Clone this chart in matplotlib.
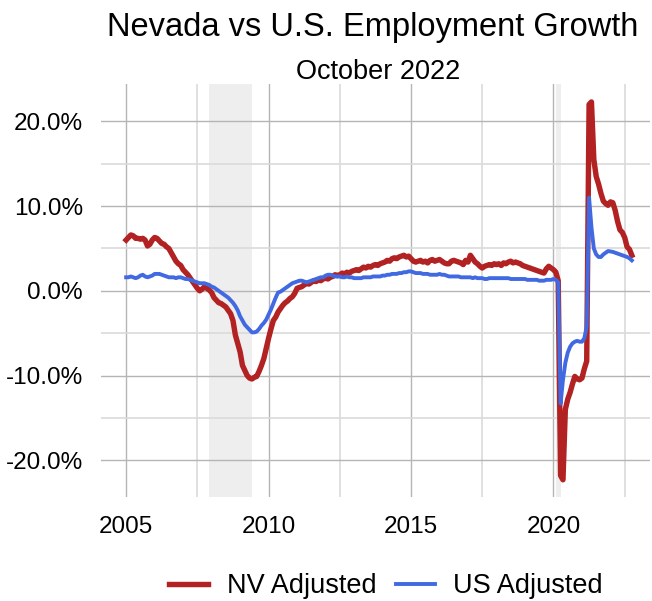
import numpy as np
import pandas as pd
import matplotlib
matplotlib.use("Agg")
import matplotlib.pyplot as plt
from matplotlib.ticker import FixedLocator, FuncFormatter

plt.rcParams["font.family"] = ["Liberation Sans", "DejaVu Sans"]

# monthly year-over-year employment growth (%), Jan 2005 .. Oct 2022
nv_adjusted = [
    6.0, 6.3, 6.6, 6.5, 6.2, 6.2, 6.1, 6.2, 6.0, 5.3, 5.5, 6.0,  # 2005
    6.3, 6.2, 5.9, 5.6, 5.5, 5.2, 5.0, 4.5, 4.0, 3.5, 3.2, 3.0,  # 2006
    2.5, 2.2, 1.9, 1.5, 1.1, 0.7, 0.3, 0.0, 0.2, 0.5, 0.3, 0.1,  # 2007
    -0.2, -0.8, -1.1, -1.4, -1.5, -1.7, -1.9, -2.3, -2.7, -3.5, -5.2, -6.2,  # 2008
    -7.2, -8.8, -9.4, -10.0, -10.3, -10.4, -10.2, -10.1, -9.5, -8.8, -8.0, -6.8,  # 2009
    -5.6, -4.5, -3.5, -3.1, -2.5, -2.1, -1.7, -1.4, -1.2, -0.9, -0.7, -0.3,  # 2010
    0.3, 0.4, 0.5, 0.7, 0.9, 0.8, 1.0, 1.2, 1.1, 1.3, 1.2, 1.4,  # 2011
    1.5, 1.4, 1.6, 1.7, 1.9, 1.8, 1.9, 2.1, 2.0, 2.2, 2.1, 2.3,  # 2012
    2.4, 2.5, 2.4, 2.6, 2.8, 2.7, 2.9, 2.8, 3.0, 3.1, 3.0, 3.2,  # 2013
    3.3, 3.4, 3.6, 3.5, 3.8, 3.9, 3.8, 4.0, 4.1, 4.2, 4.0, 4.1,  # 2014
    3.8, 3.5, 3.4, 3.5, 3.6, 3.4, 3.5, 3.3, 3.6, 3.7, 3.5, 3.6,  # 2015
    3.7, 3.5, 3.3, 3.2, 3.2, 3.5, 3.6, 3.5, 3.4, 3.3, 3.1, 3.6,  # 2016
    3.4, 4.2, 3.8, 3.4, 3.2, 2.9, 2.7, 2.9, 3.0, 3.1, 3.0, 3.2,  # 2017
    3.1, 3.2, 3.0, 3.3, 3.2, 3.4, 3.5, 3.3, 3.4, 3.3, 3.2, 3.0,  # 2018
    2.9, 2.8, 2.7, 2.6, 2.5, 2.4, 2.3, 2.2, 2.1, 2.6, 2.9, 2.7,  # 2019
    2.5, 2.2, 1.2, -21.8, -22.3, -14.0, -12.8, -12.0, -11.0, -10.1, -10.4, -10.5,  # 2020
    -10.3, -9.2, -8.3, 22.0, 22.3, 15.5, 13.5, 12.6, 11.5, 10.6, 10.3, 10.1,  # 2021
    10.5, 10.4, 9.5, 8.2, 7.2, 6.9, 6.3, 5.2, 4.9, 4.2,  # 2022
]

us_adjusted = [
    1.6, 1.6, 1.7, 1.6, 1.5, 1.6, 1.8, 1.9, 1.7, 1.6, 1.7, 1.8,  # 2005
    2.0, 2.0, 2.0, 1.9, 1.8, 1.7, 1.6, 1.6, 1.6, 1.5, 1.6, 1.6,  # 2006
    1.5, 1.4, 1.4, 1.3, 1.2, 1.1, 1.0, 0.9, 0.9, 0.9, 0.8, 0.7,  # 2007
    0.5, 0.4, 0.2, 0.0, -0.2, -0.4, -0.6, -0.8, -1.1, -1.4, -1.8, -2.3,  # 2008
    -3.0, -3.5, -4.0, -4.3, -4.6, -4.9, -4.9, -4.8, -4.5, -4.1, -3.8, -3.4,  # 2009
    -2.8, -2.2, -1.5, -0.8, -0.2, -0.1, 0.1, 0.3, 0.5, 0.7, 0.9, 1.0,  # 2010
    1.1, 1.2, 1.2, 1.1, 1.0, 1.1, 1.2, 1.3, 1.4, 1.5, 1.6, 1.6,  # 2011
    1.8, 1.9, 1.9, 1.8, 1.7, 1.7, 1.7, 1.6, 1.6, 1.7, 1.6, 1.6,  # 2012
    1.5, 1.5, 1.5, 1.5, 1.6, 1.6, 1.6, 1.6, 1.7, 1.7, 1.7, 1.7,  # 2013
    1.8, 1.8, 1.9, 1.9, 2.0, 2.0, 2.0, 2.1, 2.1, 2.2, 2.2, 2.3,  # 2014
    2.3, 2.2, 2.1, 2.1, 2.1, 2.0, 2.0, 2.0, 1.9, 1.9, 1.9, 1.9,  # 2015
    2.0, 1.9, 1.9, 1.8, 1.7, 1.7, 1.7, 1.7, 1.7, 1.6, 1.6, 1.6,  # 2016
    1.6, 1.6, 1.5, 1.6, 1.5, 1.5, 1.5, 1.4, 1.4, 1.5, 1.5, 1.5,  # 2017
    1.5, 1.5, 1.5, 1.5, 1.5, 1.5, 1.4, 1.4, 1.4, 1.4, 1.4, 1.4,  # 2018
    1.4, 1.3, 1.3, 1.3, 1.3, 1.3, 1.2, 1.2, 1.2, 1.3, 1.3, 1.3,  # 2019
    1.4, 1.3, 1.0, -13.3, -10.5, -8.5, -7.3, -6.6, -6.2, -6.0, -5.9, -6.0,  # 2020
    -6.0, -5.6, -4.2, 11.0, 7.5, 5.0, 4.3, 4.0, 4.0, 4.3, 4.5, 4.7,  # 2021
    4.65, 4.6, 4.5, 4.4, 4.3, 4.2, 4.1, 4.0, 3.85, 3.6,  # 2022
]

recessions = [("2007-12", "2009-06"), ("2020-02", "2020-04")]

title = "Nevada vs U.S. Employment Growth"
subtitle = "October 2022"


def to_year(d):
    d = pd.Timestamp(d)
    return d.year + (d.month - 1) / 12


months = pd.date_range("2005-01-01", periods=len(nv_adjusted), freq="MS")
x = np.array([to_year(m) for m in months])

fig = plt.figure(figsize=(6.52, 6.01), dpi=100)
ax = fig.add_axes([0.155, 0.1735, 0.842, 0.6865])

for start, end in recessions:
    ax.axvspan(to_year(start), to_year(end), color="#eeeeee", lw=0, zorder=0)

ax.plot(x, nv_adjusted, color="#b22222", lw=3.9, solid_joinstyle="round",
        label="NV Adjusted", zorder=3)
ax.plot(x, us_adjusted, color="#4169e1", lw=2.8, solid_joinstyle="round",
        label="US Adjusted", zorder=4)

ax.set_xlim(2004.12, 2023.39)
ax.set_ylim(-24.3, 24.4)

ax.xaxis.set_major_locator(FixedLocator([2005, 2010, 2015, 2020]))
ax.xaxis.set_minor_locator(FixedLocator([2007.5, 2012.5, 2017.5, 2022.5]))
ax.yaxis.set_major_locator(FixedLocator([-20, -10, 0, 10, 20]))
ax.yaxis.set_minor_locator(FixedLocator([-15, -5, 5, 15]))
ax.xaxis.set_major_formatter(FuncFormatter(lambda v, p: f"{v:.0f}"))
ax.yaxis.set_major_formatter(FuncFormatter(lambda v, p: f"{v:.1f}%"))

ax.grid(which="major", color="#b5b5b5", lw=1.0, zorder=1)
ax.grid(which="minor", color="#dadada", lw=1.2, zorder=1)
ax.set_axisbelow(True)
for s in ax.spines.values():
    s.set_visible(False)
ax.tick_params(which="both", length=0, labelsize=17.5)
ax.tick_params(axis="y", pad=13)
ax.tick_params(axis="x", pad=14)

fig.text(0.572, 0.955, title, ha="center", va="center", fontsize=23.5)
fig.text(0.58, 0.880, subtitle, ha="center", va="center", fontsize=19.5)

fig.legend(loc="center", bbox_to_anchor=(386 / 652, 1 - 586 / 601), ncol=2,
           frameon=False, fontsize=19.5, handlelength=1.45, handletextpad=0.68,
           columnspacing=0.72)

fig.savefig("out.png", dpi=100)
